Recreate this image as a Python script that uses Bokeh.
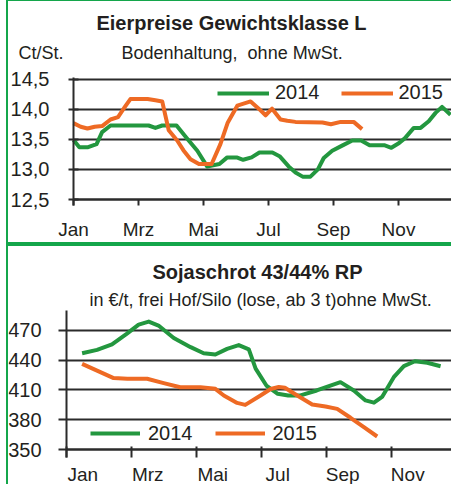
from bokeh.plotting import figure
from bokeh.models import Label, FixedTicker, Div, Range1d, Legend, LegendItem, Spacer
from bokeh.layouts import row, column
from bokeh.embed import file_html
from bokeh.resources import INLINE

# ---------------- data ----------------
months = ["Jan", "Mrz", "Mai", "Jul", "Sep", "Nov"]
month_pos = [0, 2, 4, 6, 8, 10]

egg_ticks = [12.5, 13.0, 13.5, 14.0, 14.5]
egg_tick_labels = ["12,5", "13,0", "13,5", "14,0", "14,5"]

# weekly egg prices, x in months since 1 Jan
egg_2014_x = [0.0, 0.18, 0.45, 0.71, 0.88, 1.14, 2.31, 2.52, 2.73, 3.17, 3.5, 3.81, 4.11, 4.49,
              4.73, 5.02, 5.22, 5.48, 5.72, 6.12, 6.34, 6.62, 6.83, 7.05, 7.29, 7.52, 7.70,
              7.96, 8.28, 8.58, 8.85, 9.11, 9.58, 9.78, 10.02, 10.2, 10.47, 10.68, 10.93,
              11.14, 11.34, 11.6]
egg_2014_y = [13.49, 13.37, 13.37, 13.42, 13.62, 13.73, 13.73, 13.69, 13.73, 13.73, 13.51,
              13.31, 13.05, 13.09, 13.2, 13.2, 13.16, 13.2, 13.28, 13.28, 13.22, 13.05, 12.95,
              12.88, 12.88, 13.0, 13.19, 13.31, 13.4, 13.48, 13.48, 13.4, 13.4, 13.36, 13.44,
              13.52, 13.69, 13.69, 13.8, 13.94, 14.04, 13.91]
egg_2015_x = [0.0, 0.22, 0.43, 0.65, 0.88, 1.14, 1.37, 1.57, 1.75, 2.28, 2.52, 2.73, 2.93,
              3.19, 3.38, 3.6, 3.86, 4.25, 4.52, 4.74, 5.04, 5.45, 5.7, 5.91, 6.11, 6.37,
              6.58, 6.83, 7.66, 7.92, 8.22, 8.62, 8.88]
egg_2015_y = [13.77, 13.71, 13.68, 13.71, 13.72, 13.83, 13.87, 14.03, 14.17, 14.17, 14.15,
              14.13, 13.65, 13.48, 13.32, 13.17, 13.09, 13.09, 13.42, 13.77, 14.06, 14.13,
              14.01, 13.9, 14.01, 13.83, 13.81, 13.79, 13.78, 13.75, 13.79, 13.79, 13.67]

soy_ticks = [350, 380, 410, 440, 470]

soy_2014_x = [0.48, 0.94, 1.4, 1.85, 2.22, 2.53, 2.83, 3.3, 3.82, 4.22, 4.58, 4.94, 5.3, 5.61,
              5.82, 6.15, 6.5, 6.82, 7.2, 7.7, 8.12, 8.43, 8.84, 9.2, 9.46, 9.71, 10.07, 10.38,
              10.72, 11.1, 11.51]
soy_2014_y = [447, 450.5, 456, 466.6, 476, 479, 475, 462.5, 453.2, 447.1, 445.8, 451.5, 455.3,
              451, 431.5, 414.5, 406.2, 404.5, 404.5, 409.5, 414.5, 417.9, 409.5, 399.5, 397.2,
              403, 422.9, 434, 439, 437.5, 434]
soy_2015_x = [0.48, 0.94, 1.45, 1.87, 2.48, 2.99, 3.5, 4.12, 4.58, 4.84, 5.25, 5.5, 5.97,
              6.28, 6.53, 6.72, 7.1, 7.56, 7.97, 8.33, 8.74, 9.15, 9.56]
soy_2015_y = [436.4, 429.5, 422, 421.3, 421.3, 416.9, 412.8, 412.8, 411.2, 404.5, 397, 395,
              404.5, 411, 413, 412.2, 404.5, 395.4, 393.4, 391, 382, 372.5, 363.1]

# ---------------- style ----------------
FONT = "Liberation Sans"
GREEN = "#23973f"
ORANGE = "#ee6a24"
BORDER = "#14a64b"
GRID = "#2b2b2b"
TEXT = "#231f20"
W = 443          # figure width (page x 8 .. 451)
PX_MONTH = 32.5


class Mapper:
    """page-pixel -> data conversion for a figure whose frame fills its canvas"""

    def __init__(self, px0, month0_px, py_top, py_bottom, vref, vref_py, px_per_unit):
        self.px0, self.m0 = px0, month0_px
        self.py_top, self.py_bottom = py_top, py_bottom
        self.vref, self.vref_py, self.k = vref, vref_py, px_per_unit

    def x(self, px):
        return (px - self.m0) / PX_MONTH

    def y(self, py):
        return self.vref + (self.vref_py - py) / self.k

    def ranges(self):
        return (Range1d(self.x(self.px0), self.x(self.px0 + W)),
                Range1d(self.y(self.py_bottom), self.y(self.py_top)))


def make_fig(m, height):
    xr, yr = m.ranges()
    p = figure(width=W, height=height, output_backend="svg", toolbar_location=None,
               x_range=xr, y_range=yr, min_border=0, min_border_left=0, min_border_right=0,
               min_border_top=0, min_border_bottom=0)
    p.outline_line_color = None
    return p


def style_axes(p, m, xt, xlabels, yt, ylabels, ybounds, x_minor=None):
    p.xgrid.visible = False
    p.ygrid.ticker = FixedTicker(ticks=yt)
    p.ygrid.grid_line_color = GRID
    p.ygrid.grid_line_width = 2
    p.ygrid.cross_bounds = (0, p.x_range.end)
    xa, ya = p.xaxis[0], p.yaxis[0]
    xa.fixed_location = yt[0]
    ya.fixed_location = 0
    xa.bounds = (0, p.x_range.end)
    ya.bounds = ybounds
    xa.ticker = FixedTicker(ticks=xt, minor_ticks=x_minor or [])
    xa.major_label_overrides = dict(zip(xt, xlabels))
    ya.ticker = FixedTicker(ticks=yt)
    ya.major_label_overrides = dict(zip(yt, ylabels))
    for ax in (xa, ya):
        ax.axis_line_color = GRID
        ax.axis_line_width = 2
        ax.major_tick_line_color = GRID
        ax.major_tick_line_width = 2
        ax.minor_tick_line_color = GRID
        ax.minor_tick_line_width = 2
        ax.major_label_text_font = FONT
        ax.major_label_text_color = TEXT
    ya.major_label_text_font_size = "20px"
    xa.major_label_text_font_size = "19px"


def add_text(p, m, px, py, text, size, bold=False, align="left"):
    # py is the vertical centre of the text line in page pixels
    p.add_layout(Label(x=m.x(px), y=m.y(py), text=text, text_font=FONT, text_font_size=size,
                       text_font_style="bold" if bold else "normal", text_color=TEXT,
                       text_align=align, text_baseline="alphabetic"))


def add_legend(p, renderers, x, y, glyph_w, standoff, spacing):
    leg = Legend(items=[LegendItem(label=lab, renderers=[r]) for lab, r in zip(["2014", "2015"], renderers)],
                 orientation="horizontal", location=(x, y),
                 glyph_width=glyph_w, glyph_height=24, label_height=24, label_standoff=standoff,
                 spacing=spacing, padding=0, margin=0, border_line_color=None,
                 background_fill_alpha=0, label_text_font=FONT, label_text_font_size="20px",
                 label_text_color=TEXT)
    p.add_layout(leg)


# ---------------- top chart (page y 1 .. 242) ----------------
m1 = Mapper(px0=8, month0_px=73, py_top=1, py_bottom=242, vref=12.5, vref_py=199, px_per_unit=60.16)
p1 = make_fig(m1, 241)
style_axes(p1, m1, month_pos, months, egg_ticks, egg_tick_labels, ybounds=(m1.y(205), m1.y(77)))
p1.xaxis.major_tick_in = 0
p1.xaxis.major_tick_out = 6
p1.xaxis.major_label_standoff = 13
p1.yaxis.major_tick_in = 5
p1.yaxis.major_tick_out = 5
p1.yaxis.major_label_standoff = 19

r14 = p1.line(egg_2014_x, egg_2014_y, line_color=GREEN, line_width=4, line_join="round")
r15 = p1.line(egg_2015_x, egg_2015_y, line_color=ORANGE, line_width=4, line_join="round")

add_text(p1, m1, 231, 22, "Eierpreise Gewichtsklasse L", "20px", bold=True, align="center")
add_text(p1, m1, 18, 52.5, "Ct/St.", "18px")
add_text(p1, m1, 121, 52, "Bodenhaltung,\u00a0 ohne MwSt.", "18px")
add_legend(p1, [r14, r15], 217 - 8, 242 - 104.7, 52, 6, 21)

# ---------------- bottom chart (page y 246 .. 484) ----------------
m2 = Mapper(px0=8, month0_px=66, py_top=246, py_bottom=484, vref=350, vref_py=449, px_per_unit=0.9917)
p2 = make_fig(m2, 238)
mid_pos = [mp + 0.5 for mp in month_pos]
style_axes(p2, m2, mid_pos, months, soy_ticks, [str(t) for t in soy_ticks],
           ybounds=(m2.y(457), m2.y(310)), x_minor=month_pos)
p2.xaxis.major_tick_in = 0
p2.xaxis.major_tick_out = 0
p2.xaxis.minor_tick_in = 3
p2.xaxis.minor_tick_out = 8
p2.xaxis.major_label_standoff = 6
p2.yaxis.major_tick_in = 0
p2.yaxis.major_tick_out = 8
p2.yaxis.major_label_standoff = 17

s14 = p2.line(soy_2014_x, soy_2014_y, line_color=GREEN, line_width=4, line_join="round")
s15 = p2.line(soy_2015_x, soy_2015_y, line_color=ORANGE, line_width=4, line_join="round")

add_text(p2, m2, 257, 271, "Sojaschrot 43/44% RP", "20px", bold=True, align="center")
add_text(p2, m2, 89, 299, "in €/t, frei Hof/Silo (lose, ab 3 t)ohne MwSt.", "18px")
add_legend(p2, [s14, s15], 90 - 8, 484 - 445.3, 50, 8, 22)

# ---------------- green frame ----------------
top_bar = Div(width=W, height=1, margin=0, styles={"background-color": BORDER})
mid_bar = Div(width=W, height=4, margin=0, styles={"background-color": BORDER})
left_bar = Div(width=2, height=484, margin=0, styles={"background-color": BORDER})
layout = row(Spacer(width=6, height=484, margin=0), left_bar,
             column(top_bar, p1, mid_bar, p2, spacing=0), spacing=0)

open("out.html", "w").write(file_html(layout, INLINE))
